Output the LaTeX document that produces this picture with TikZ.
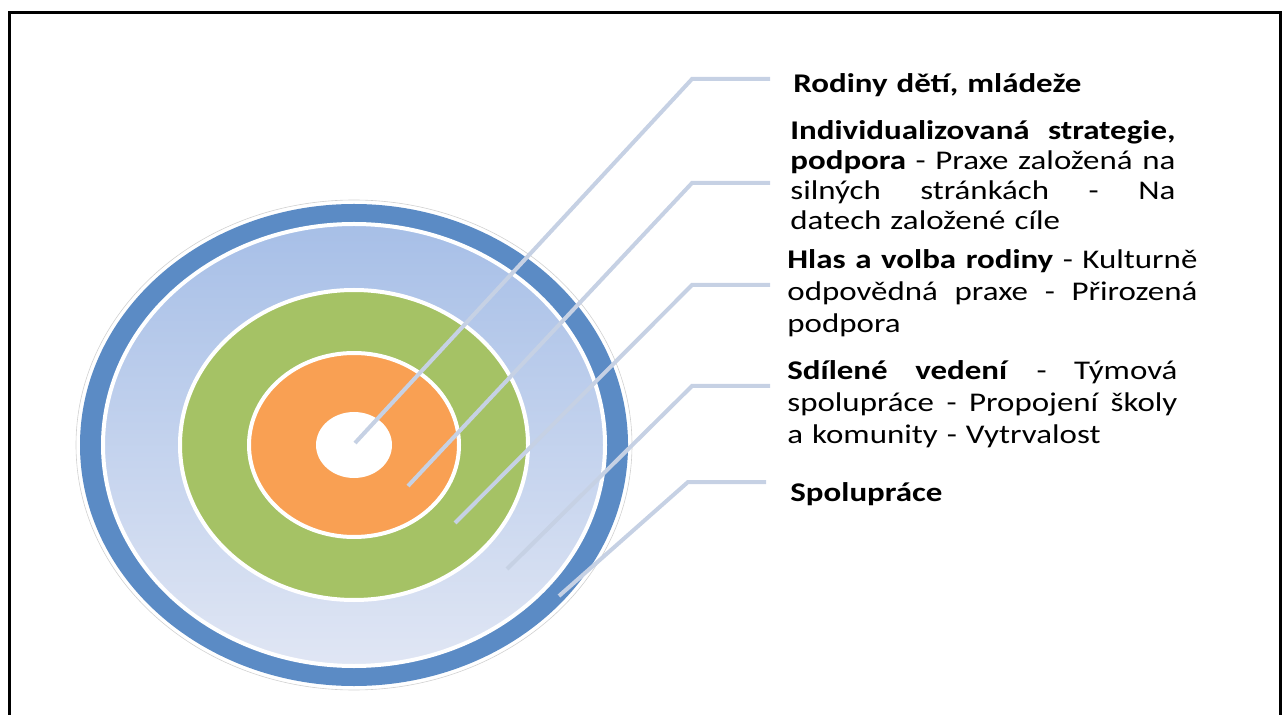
\documentclass[tikz,border=0pt]{standalone}
\usepackage{fontspec}
\setmainfont{Carlito}[FakeStretch=1.22]
\usetikzlibrary{shapes.geometric, positioning}
\definecolor{ringblue}{RGB}{91,139,197}
\definecolor{lighttop}{RGB}{167,191,231}
\definecolor{lightbot}{RGB}{224,230,244}
\definecolor{ringgreen}{RGB}{165,194,101}
\definecolor{ringorange}{RGB}{249,160,83}
\definecolor{leadercol}{RGB}{198,209,228}
\tikzset{
  ring/.style={
    ellipse,
    inner sep=0pt,
    draw=white,
    line width=2pt
  },
  leader/.style={
    draw=leadercol,
    line width=2pt
  },
  caption/.style={
    anchor=base west,
    inner sep=0pt,
    align=left,
    font=\fontsize{13.5}{16}\selectfont
  }
}
\newcommand*\jline[2]{{\spaceskip=0pt\xspaceskip=0pt\makebox[#1][s]{#2}}}

\begin{document}
\begin{tikzpicture}[x=0.5pt, y=-0.5pt]
\useasboundingbox (0,0) rectangle (1283,715);
% frame
\draw[line width=1.5pt] (9.5,12.5) rectangle (1280.5,760);

% rings
\coordinate (c) at (354,445);
\node[ellipse, inner sep=0pt, draw=black!18, line width=0.3pt, minimum width=278pt, minimum height=245pt] (halo) at (c) {};
\node[ellipse, inner sep=0pt, fill=ringblue, minimum width=274pt, minimum height=241pt] (outer) at (c) {};
\node[ring, top color=lighttop, bottom color=lightbot, minimum width=251pt, minimum height=221pt] (light) at (c) {};
\node[ring, fill=ringgreen, minimum width=174pt, minimum height=155pt] (green) at (c) {};
\node[ring, fill=ringorange, minimum width=105pt, minimum height=92pt] (orange) at (c) {};
\node[ellipse, inner sep=0pt, fill=white, minimum width=38pt, minimum height=33pt] (core) at (c) {};

% leader points
\coordinate (s1) at (355,443);
\coordinate (s2) at (408,486);
\coordinate (s3) at (455,523);
\coordinate (s4) at (507,569);
\coordinate (s5) at (559,596);
\coordinate (k1) at (692,79);
\coordinate (k2) at (692,183);
\coordinate (k3) at (692,285);
\coordinate (k4) at (692,386);
\coordinate (k5) at (688,482);
\coordinate (h1) at (770,79);
\coordinate (h2) at (770,183);
\coordinate (h3) at (770,285);
\coordinate (h4) at (770,386);
\coordinate (h5) at (766,482);

% captions
\node[caption, text width=200pt] (t1) at (793,93)
{\textbf{Rodiny dětí, mládeže}};

\node[caption, text width=192.5pt, font=\fontsize{13.5}{15}\selectfont] (t2) at (790,140)
{\jline{192.5pt}{\textbf{Individualizovaná strategie,}}\\
 \jline{192.5pt}{\textbf{podpora} - Praxe založená na}\\
 \jline{192.5pt}{silných stránkách - Na}\\
 datech založené cíle};

\node[caption, text width=205pt] (t3) at (787,269)
{\jline{205pt}{\textbf{Hlas a volba rodiny} - Kulturně}\\
 \jline{205pt}{odpovědná praxe - Přirozená}\\
 podpora};

\node[caption, text width=195pt] (t4) at (787,380)
{\jline{195pt}{\textbf{Sdílené vedení} - Týmová}\\
 \jline{195pt}{spolupráce - Propojení školy}\\
 a komunity - Vytrvalost};

\node[caption, text width=200pt] (t5) at (790,501)
{\textbf{Spolupráce}};

% edges
\draw[leader] (s1) -- (k1) -- (h1);
\draw[leader] (s2) -- (k2) -- (h2);
\draw[leader] (s3) -- (k3) -- (h3);
\draw[leader] (s4) -- (k4) -- (h4);
\draw[leader] (s5) -- (k5) -- (h5);
\end{tikzpicture}
\end{document}
